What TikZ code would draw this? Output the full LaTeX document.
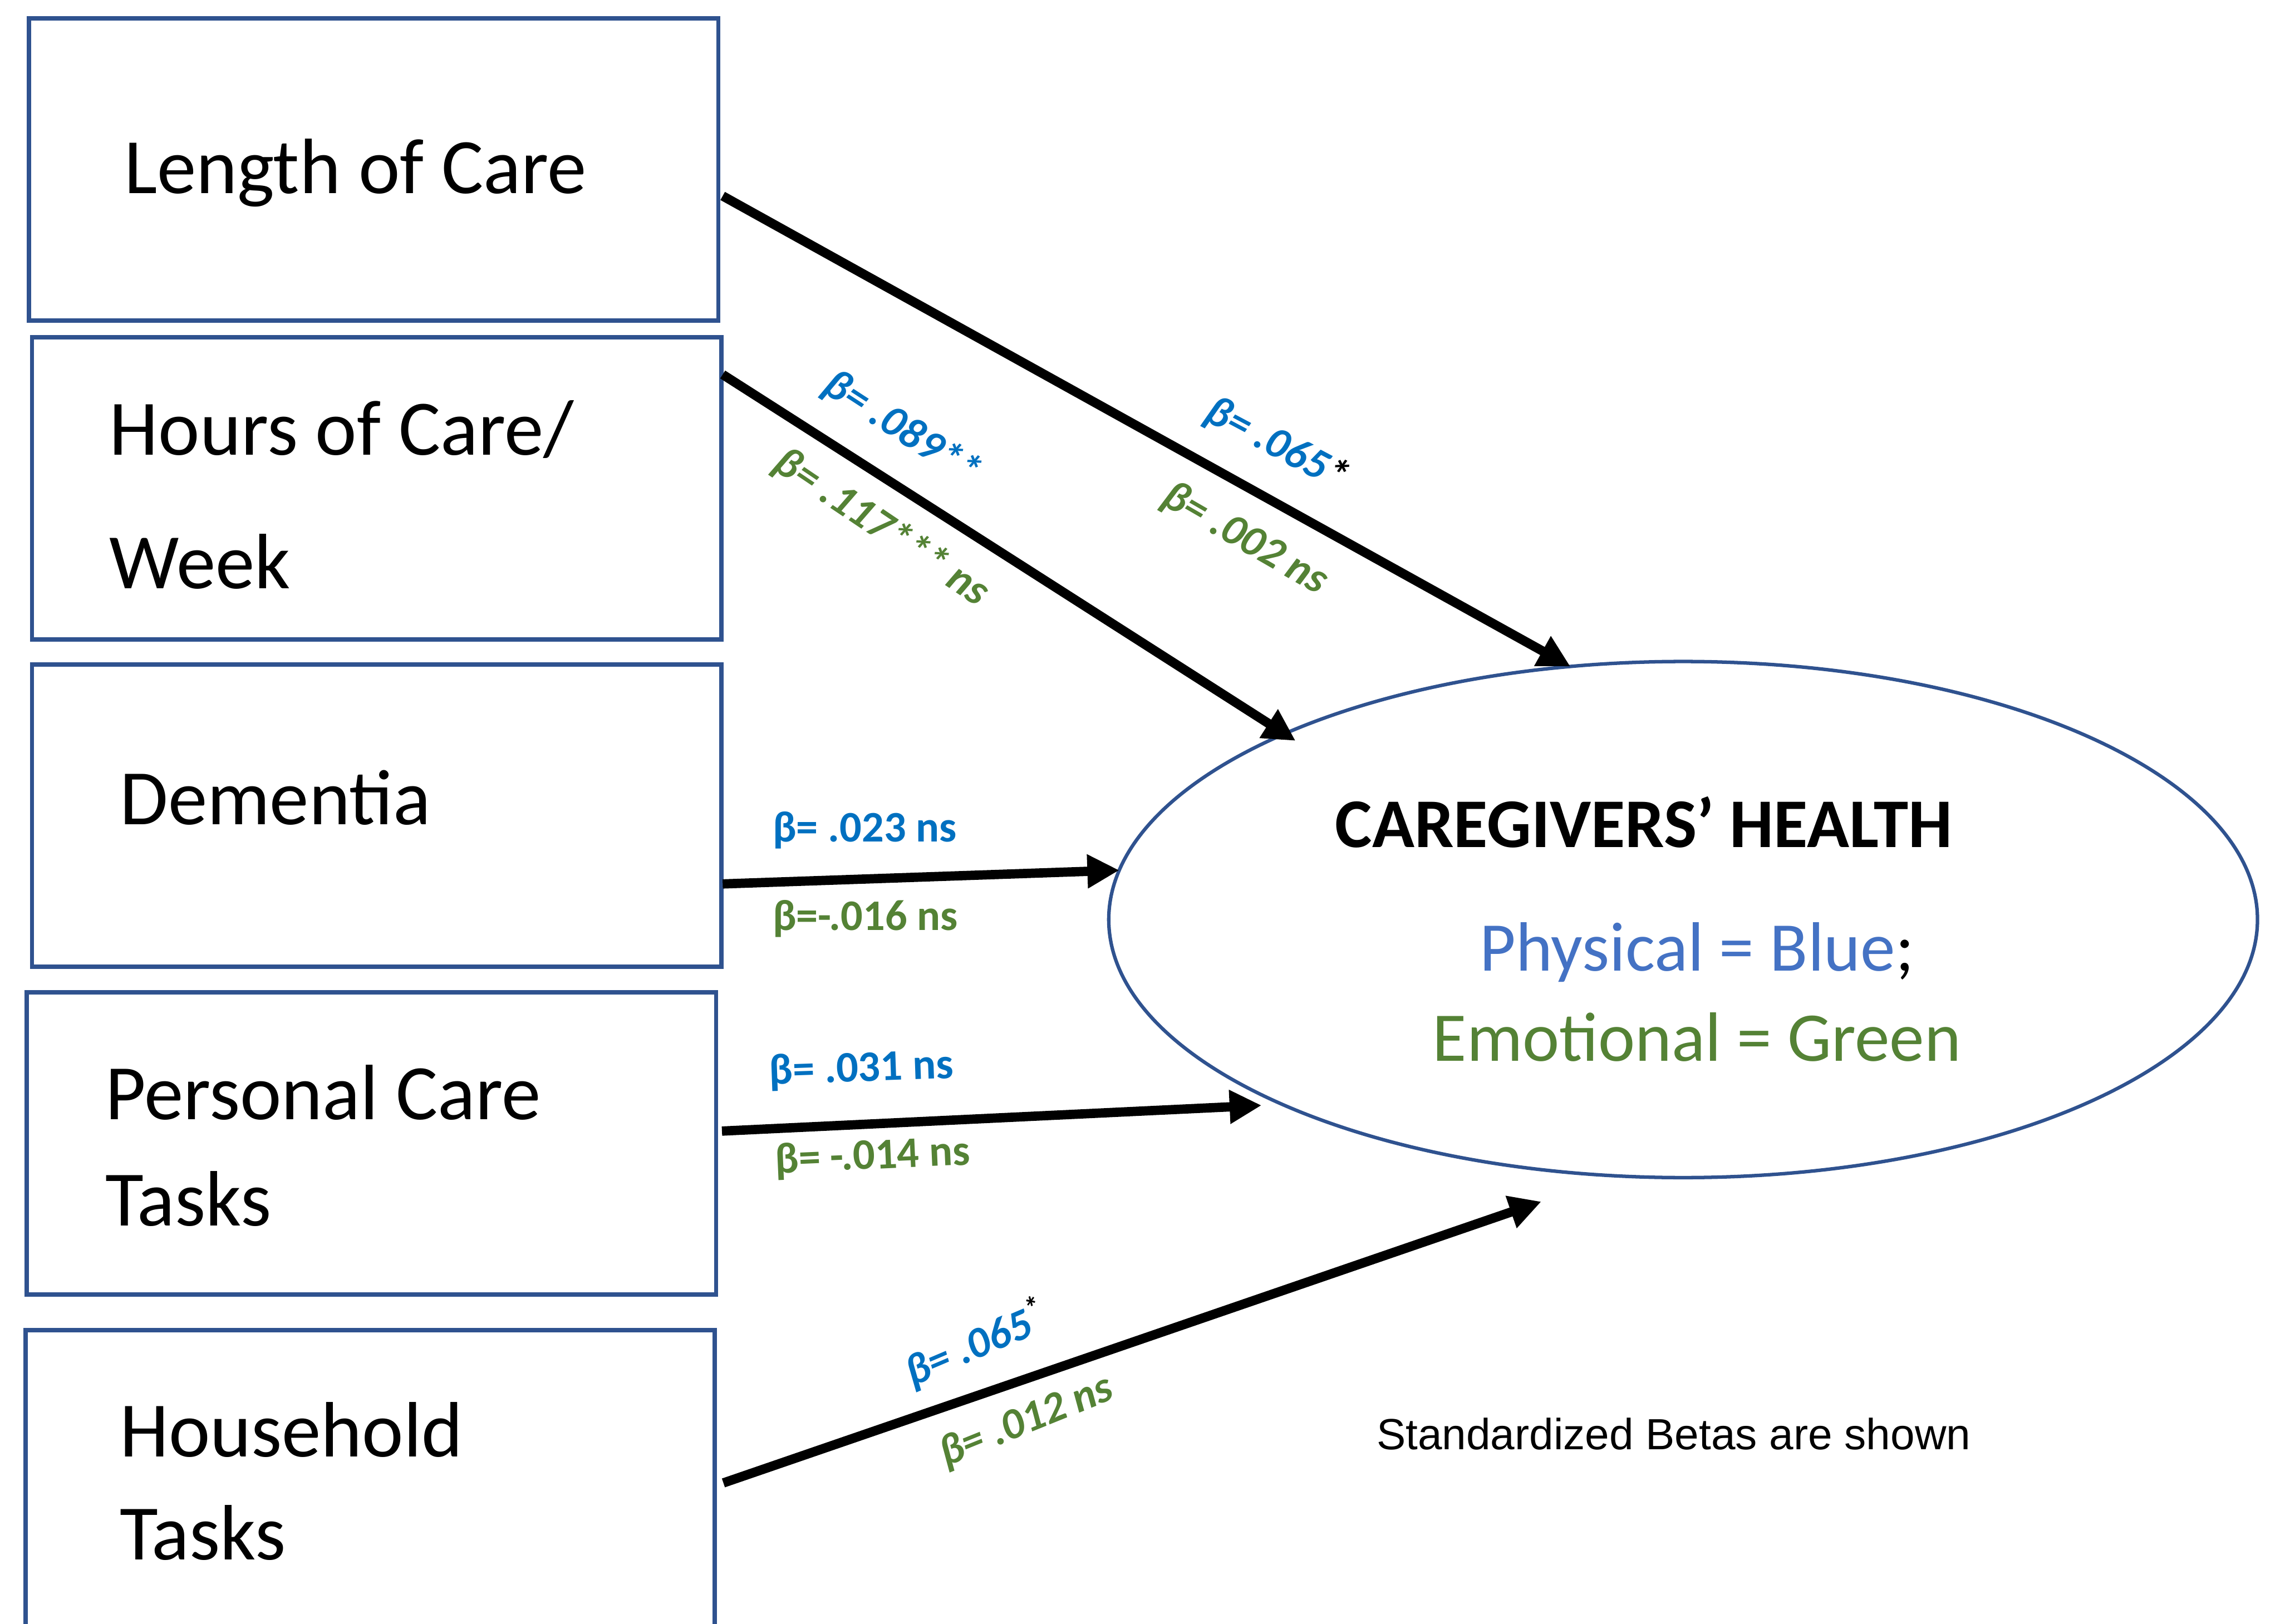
\documentclass[tikz,border=0pt]{standalone}
\usepackage{fontspec}
\setmainfont{Carlito}
\newfontfamily\notefont{Liberation Sans}
\usetikzlibrary{shapes.geometric,arrows.meta,calc}
\definecolor{boxblue}{HTML}{2F528F}
\definecolor{betablue}{HTML}{0070C0}
\definecolor{betagreen}{HTML}{548235}
\definecolor{physblue}{HTML}{4472C4}

\begin{document}
\begin{tikzpicture}[x=0.5pt,y=-0.5pt,
  factor/.style={draw=boxblue,line width=1.5pt,minimum width=237pt,minimum height=104pt,inner sep=0pt,outer sep=0pt},
  factortext/.style={anchor=base west,inner sep=0pt,font=\fontsize{27}{32}\selectfont},
  effect/.style={line width=3.2pt,-{Triangle[length=11pt,width=11pt]}},
  betalab/.style={inner sep=0pt,font=\fontsize{15}{18}\selectfont\bfseries\itshape},
  betaflat/.style={inner sep=0pt,anchor=base west,font=\fontsize{15}{18}\selectfont\bfseries},
  phys/.style={betalab,text=betablue},
  emo/.style={betalab,text=betagreen}]
\useasboundingbox (0,0) rectangle (1568,1117);

% predictor boxes
\node[factor] (len)   at (257,116.5)  {};
\node[factor] (hours) at (259,336)    {};
\node[factor] (dem)   at (259,561)    {};
\node[factor] (pers)  at (255.5,786.5){};
\node[factor] (house) at (254.5,1019) {};

\node[factortext] (lenT)   at (85,133)  {Length of Care};
\node[factortext] (hoursT) at (75,313)  {Hours of Care/};
\node[factortext] (hoursW) at (75,405)  {Week};
\node[factortext] (demT)   at (82,567)  {Dementia};
\node[factortext] (persT)  at (72,770)  {Personal Care};
\node[factortext] (persW)  at (72,843)  {Tasks};
\node[factortext] (houseT) at (82,1002) {Household};
\node[factortext] (houseW) at (82,1073) {Tasks};

% outcome
\node[ellipse,draw=boxblue,line width=1.2pt,minimum width=395pt,minimum height=177.5pt,
      inner sep=0pt,outer sep=0pt] (health) at (1157.5,632.5) {};
\node[anchor=base,inner sep=0pt,font=\fontsize{24}{28}\selectfont\bfseries] (title) at (1130.5,583) {CAREGIVERS’ HEALTH};
\node[anchor=base,inner sep=0pt,font=\fontsize{24}{28}\selectfont] (physkey) at (1167,668) {\textcolor{physblue}{Physical = Blue};};
\node[anchor=base,inner sep=0pt,font=\fontsize{24}{28}\selectfont,text=betagreen] (emokey) at (1167,730) {Emotional = Green};

% free ends of the two arrows that stop short of the ellipse
\coordinate (persTip)  at (867.6,760.3);
\coordinate (houseTip) at (1060,826.5);

% paths
\draw[effect] ($(len.east)+(3,18.3)$)   -- (health.114.2);
\draw[effect,shorten >=-4.5pt] ($(hours.east)+(1,-78.4)$) -- (health.155.4);
\draw[effect] ($(dem.east)+(1,47)$)      -- (health.175.2);
\draw[effect] ($(pers.east)+(4,-8.5)$)   -- (persTip);
\draw[effect] ($(house.east)+(6,1)$)     -- (houseTip);

% standardized betas
\node[phys,rotate=-33] (b1p) at (620,295) {β= .089**};
\node[emo,rotate=-34]  (b1e) at (606,363) {β= .117*** ns};
\node[phys,rotate=-28] (b0p) at (878,306) {β= .065\textcolor{black}{*}};
\node[emo,rotate=-30]  (b0e) at (856,371) {β= .002 ns};

\node[betaflat,text=betablue]  (b2p) at (531,579) {β= .023 ns};
\node[betaflat,text=betagreen] (b2e) at (531,640) {β=-.016 ns};
\node[betaflat,text=betablue,rotate=2]    (b3p) at (529,746) {β= .031 ns};
\node[betaflat,text=betagreen,rotate=2.5] (b3e) at (533,807) {β= -.014 ns};

\node[phys,rotate=23] (b4p) at (671,924) {β= .065\textsuperscript{\textcolor{black}{*}}};
\node[emo,rotate=22]  (b4e) at (706,978) {β= .012 ns};

\node[anchor=base,inner sep=0pt,font=\notefont\fontsize{15}{18}\selectfont] (note) at (1151,997) {Standardized Betas are shown};
\end{tikzpicture}
\end{document}
